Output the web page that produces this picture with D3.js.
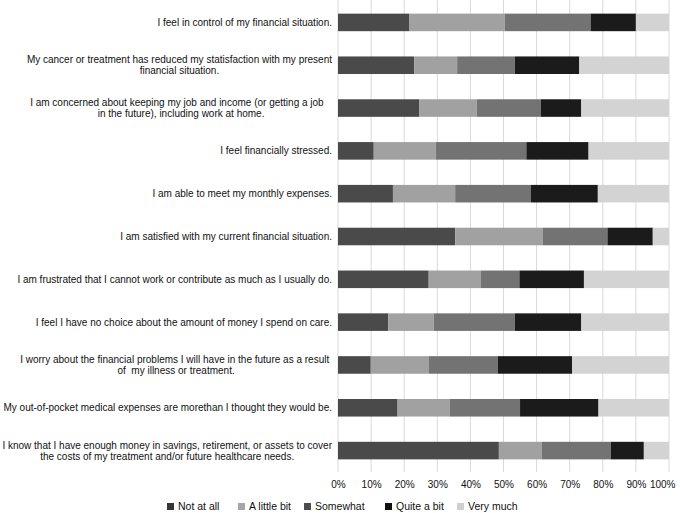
<!DOCTYPE html>
<html>
<head>
<meta charset="utf-8">
<script src="https://cdn.jsdelivr.net/npm/d3@7"></script>
<style>
  body { margin: 0; background: #fff; }
  svg { display: block; font-family: 'Liberation Sans', Arial, sans-serif; }
</style>
</head>
<body>
<svg id="chart" width="680" height="513"></svg>
<script>
// statements, split into the lines shown on the chart
const statements = [
  ['I feel in control of my financial situation.'],
  ['My cancer or treatment has reduced my statisfaction with my present', 'financial situation.'],
  ['I am concerned about keeping my job and income (or getting a job\u00a0\u00a0\u00a0', 'in the future), including work at home.'],
  ['I feel financially stressed.'],
  ['I am able to meet my monthly expenses.'],
  ['I am satisfied with my current financial situation.'],
  ['I am frustrated that I cannot work or contribute as much as I usually do.'],
  ['I feel I have no choice about the amount of money I spend on care.'],
  ['I worry about the financial problems I will have in the future as a result\u00a0', 'of\u00a0 my illness or treatment.'],
  ['My out-of-pocket medical expenses are morethan I thought they would be.'],
  ['I know that I have enough money in savings, retirement, or assets to cover', 'the costs of my treatment and/or future healthcare needs.']
];

const responses = ['Not at all', 'A little bit', 'Somewhat', 'Quite a bit', 'Very much'];

// percentages per statement, one array per response
const notAtAll   = [21.6, 23.0, 24.6, 10.8, 16.6, 35.4, 27.4, 15.2,  9.9, 18.0, 48.6];
const aLittleBit = [28.8, 13.0, 17.3, 18.7, 18.8, 26.4, 15.8, 13.7, 17.6, 15.7, 13.0];
const somewhat   = [25.9, 17.4, 19.4, 27.4, 22.9, 19.6, 11.6, 24.5, 20.8, 21.3, 20.8];
const quiteABit  = [13.7, 19.5, 12.2, 18.8, 20.2, 13.7, 19.5, 20.1, 22.4, 23.7, 10.0];
const veryMuch   = [10.0, 27.1, 26.5, 24.3, 21.5,  4.9, 25.7, 26.5, 29.3, 21.3,  7.6];

const ticks = [0, 10, 20, 30, 40, 50, 60, 70, 80, 90, 100];

const colors = ['#4a4a4a', '#a1a1a1', '#737373', '#1b1b1b', '#d3d3d3'];
// the legend swatches in the original are not quite the bar colours
const legendColors = ['#363636', '#a6a6a6', '#4d4d4d', '#111111', '#cfcfcf'];

const margin = { top: 1, right: 11, bottom: 41, left: 338 };
const svg = d3.select('#chart');
const width = +svg.attr('width') - margin.left - margin.right;
const height = +svg.attr('height') - margin.top - margin.bottom;

const rows = statements.map((s, i) => ({
  idx: i,
  'Not at all': notAtAll[i],
  'A little bit': aLittleBit[i],
  'Somewhat': somewhat[i],
  'Quite a bit': quiteABit[i],
  'Very much': veryMuch[i]
}));

const x = d3.scaleLinear().domain([0, 100]).range([0, width]);
const y = d3.scaleBand().domain(d3.range(statements.length)).range([0, height]).paddingInner(0.59).paddingOuter(0.295);
const color = d3.scaleOrdinal().domain(responses).range(colors);

const g = svg.append('g').attr('transform', `translate(${margin.left},${margin.top})`);

// vertical grid
g.append('g')
  .selectAll('line')
  .data(ticks)
  .enter().append('line')
  .attr('x1', d => x(d)).attr('x2', d => x(d))
  .attr('y1', -margin.top).attr('y2', height)
  .attr('stroke', '#d9d9d9')
  .attr('stroke-width', 1);

// stacked bars
const stack = d3.stack().keys(responses);
g.append('g')
  .selectAll('g')
  .data(stack(rows))
  .enter().append('g')
  .attr('fill', d => color(d.key))
  .selectAll('rect')
  .data(d => d)
  .enter().append('rect')
  .attr('x', d => x(d[0]))
  .attr('y', d => y(d.data.idx))
  .attr('width', d => x(d[1]) - x(d[0]))
  .attr('height', y.bandwidth());

// x axis labels
const xAxis = g.append('g')
  .attr('transform', `translate(0,${height})`)
  .call(d3.axisBottom(x).tickValues(ticks).tickFormat(d => d + '%').tickSize(0).tickPadding(9));
xAxis.select('.domain').remove();
xAxis.selectAll('text')
  .attr('fill', '#111')
  .style('font-size', '10px');
// last label is pulled in so it stays inside the picture
xAxis.selectAll('.tick').filter(d => d === 100).select('text')
  .attr('text-anchor', 'end')
  .attr('x', 6);

// category labels
const labelRight = -6;
const lineHeight = 11;
const labels = g.append('g')
  .selectAll('text')
  .data(statements)
  .enter().append('text')
  .attr('fill', '#111')
  .style('font-size', '10px');

labels.each(function (lines, i) {
  const t = d3.select(this);
  const cy = y(i) + y.bandwidth() / 2;
  const spans = lines.map((line, j) => t.append('tspan')
    .attr('y', cy + (j - (lines.length - 1) / 2) * lineHeight)
    .attr('dy', '0.35em')
    .text(line));
  if (lines.length === 1) {
    t.attr('text-anchor', 'end');
    spans[0].attr('x', labelRight);
  } else {
    const maxW = d3.max(spans, s => s.node().getComputedTextLength());
    t.attr('text-anchor', 'middle');
    spans.forEach(s => s.attr('x', labelRight - maxW / 2));
  }
});

// legend
const legendX = [167, 238, 304, 385, 457];
const legend = svg.append('g')
  .attr('transform', `translate(0,${506})`)
  .selectAll('g')
  .data(responses)
  .enter().append('g')
  .attr('transform', (d, i) => `translate(${legendX[i]},0)`);
legend.append('rect')
  .attr('x', 0).attr('y', -3)
  .attr('width', 7).attr('height', 7)
  .attr('fill', (d, i) => legendColors[i]);
legend.append('text')
  .attr('x', 11)
  .attr('y', 0)
  .attr('dy', '0.35em')
  .attr('fill', '#111')
  .style('font-size', '10.5px')
  .text(d => d);
</script>
</body>
</html>
